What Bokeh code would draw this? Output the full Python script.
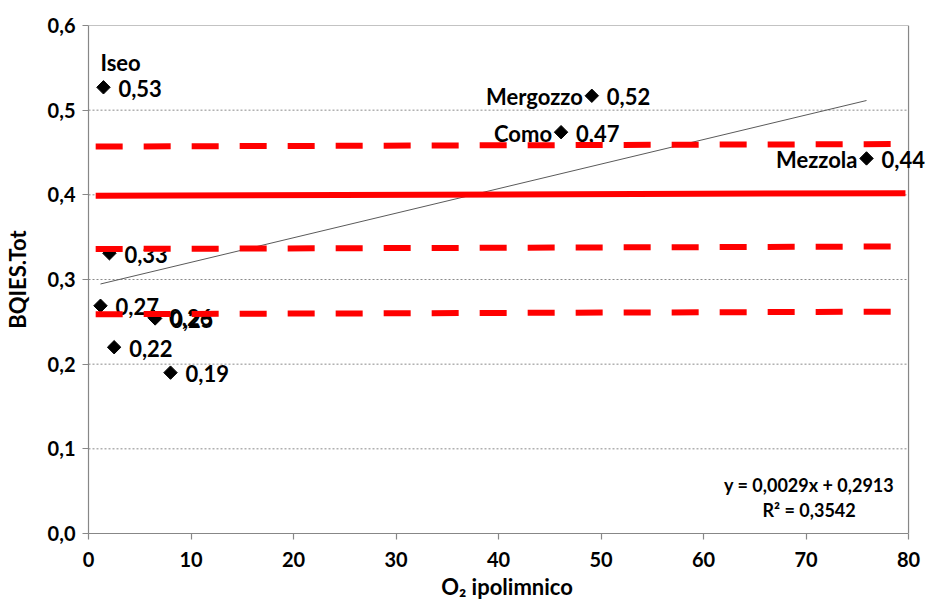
import math

from bokeh.core.properties import value
from bokeh.embed import file_html
from bokeh.models import ColumnDataSource, CustomJSTickFormatter, FixedTicker, LabelSet, Range1d
from bokeh.plotting import figure
from bokeh.resources import INLINE

# Lakes: hypolimnetic O2 vs BQIES.Tot
lakes = ["Iseo", "Mergozzo", "Como", "Mezzola", "", "", "", "", "", ""]
o2 = [1.46, 49.1, 46.1, 75.9, 2.04, 1.17, 6.4, 6.5, 2.5, 8.0]
bqies = [0.527, 0.517, 0.474, 0.443, 0.331, 0.269, 0.256, 0.254, 0.220, 0.190]

# Linear trend of BQIES.Tot on O2
slope = 0.0029
intercept = 0.2913
r_squared = 0.3542

# Class boundary lines (value at left end, value at right end)
bound_x = [0.7, 79.7]
bound_solid = [0.399, 0.402]
bound_dashed = [[0.457, 0.460], [0.336, 0.339], [0.259, 0.262]]

x_ticks = [0, 10, 20, 30, 40, 50, 60, 70, 80]
y_ticks = [0.0, 0.1, 0.2, 0.3, 0.4, 0.5, 0.6]

FONT = "Lato"
GREY = "#878787"

X_MAX, Y_MAX = 80, 0.6
LEFT, RIGHT_PAD, WIDTH = 86, 17, 925


def comma(v, nd):
    return f"{v:.{nd}f}".replace(".", ",")


# the frame runs to the right edge so labels near x=80 are not cut;
# the plot box itself is closed at x=80
x_end = X_MAX * (WIDTH - LEFT) / (WIDTH - LEFT - RIGHT_PAD)

p = figure(
    width=WIDTH, height=605,
    x_range=Range1d(0, x_end), y_range=Range1d(0, Y_MAX),
    output_backend="svg", toolbar_location=None,
    min_border_left=LEFT, min_border_right=0,
    min_border_top=25, min_border_bottom=72,
)
p.background_fill_color = "white"
p.border_fill_color = "white"
p.outline_line_color = None
p.xgrid.visible = False
p.ygrid.visible = False

p.xaxis.ticker = FixedTicker(ticks=x_ticks)
p.yaxis.ticker = FixedTicker(ticks=y_ticks)
p.xaxis.bounds = (0, X_MAX)
p.yaxis.formatter = CustomJSTickFormatter(code="return tick.toFixed(1).replace('.', ',');")

for ax in (p.xaxis[0], p.yaxis[0]):
    ax.axis_line_color = GREY
    ax.axis_line_width = 1.2
    ax.major_tick_line_color = GREY
    ax.major_tick_line_width = 1.2
    ax.major_tick_in = 0
    ax.major_tick_out = 6
    ax.minor_tick_line_color = None
    ax.major_label_text_font = FONT
    ax.major_label_text_font_style = "bold"
    ax.major_label_text_font_size = "20px"
    ax.major_label_text_color = "black"
    ax.axis_label_text_font = FONT
    ax.axis_label_text_font_style = "bold"
    ax.axis_label_text_font_size = "22px"
    ax.axis_label_text_color = "black"

p.xaxis.axis_label = "O₂ ipolimnico"
p.yaxis.axis_label = "BQIES.Tot"
p.xaxis.major_label_standoff = 12
p.yaxis.major_label_standoff = 7
p.xaxis.axis_label_standoff = 3
p.yaxis.axis_label_standoff = 14

# horizontal dotted grid, limited to the plot box
grid_y = [t for t in y_ticks if 0 < t < Y_MAX]
p.segment(x0=[0] * len(grid_y), y0=grid_y, x1=[X_MAX] * len(grid_y), y1=grid_y,
          line_color="#8a8a8a", line_dash="2 2", line_width=1)

# top and right sides of the plot box
p.segment(x0=[0, X_MAX], y0=[Y_MAX, 0], x1=[X_MAX, X_MAX], y1=[Y_MAX, Y_MAX],
          line_color=GREY, line_width=1.2)

# trend line across the range of the data
tx = [min(o2), max(o2)]
p.line(tx, [intercept + slope * v for v in tx], line_color="#5a5a5a", line_width=1)

src = ColumnDataSource(dict(
    x=o2, y=bqies, name=lakes,
    val=[comma(v, 2) for v in bqies],
))

p.scatter("x", "y", source=src, marker="square", angle=math.pi / 4,
          size=9.5, fill_color="black", line_color="black")

label_style = dict(text_font=value(FONT), text_font_style="bold", text_font_size="22px",
                   text_color="black", text_baseline="middle")

# value labels to the right of every marker
p.add_layout(LabelSet(x="x", y="y", text="val", source=src, x_offset=15, y_offset=-1,
                      text_align="left", **label_style))

# lake names: the first sits above its marker, the others to its left
above = ColumnDataSource(dict(x=o2[:1], y=bqies[:1], name=lakes[:1]))
left = ColumnDataSource(dict(x=o2[1:4], y=bqies[1:4], name=lakes[1:4]))
p.add_layout(LabelSet(x="x", y="y", text="name", source=above, x_offset=-3, y_offset=25,
                      text_align="left", **label_style))
p.add_layout(LabelSet(x="x", y="y", text="name", source=left, x_offset=-9, y_offset=-1,
                      text_align="right", **label_style))

# class boundaries, drawn over the labels
r = p.line(bound_x, bound_solid, line_color="#ff0000", line_width=6)
r.level = "overlay"
for ys in bound_dashed:
    r = p.line(bound_x, ys, line_color="#ff0000", line_width=6,
               line_dash="27 21", line_cap="butt")
    r.level = "overlay"

# regression equation
eq = ColumnDataSource(dict(
    x=[70.3, 70.3], y=[0.0567, 0.0283],
    t=[f"y = {comma(slope, 4)}x + {comma(intercept, 4)}", f"R² = {comma(r_squared, 4)}"],
))
p.add_layout(LabelSet(x="x", y="y", text="t", source=eq, text_font=value(FONT),
                      text_font_style="bold", text_font_size="18px",
                      text_align="center", text_baseline="middle", text_color="black"))

open("out.html", "w").write(file_html(p, INLINE))
